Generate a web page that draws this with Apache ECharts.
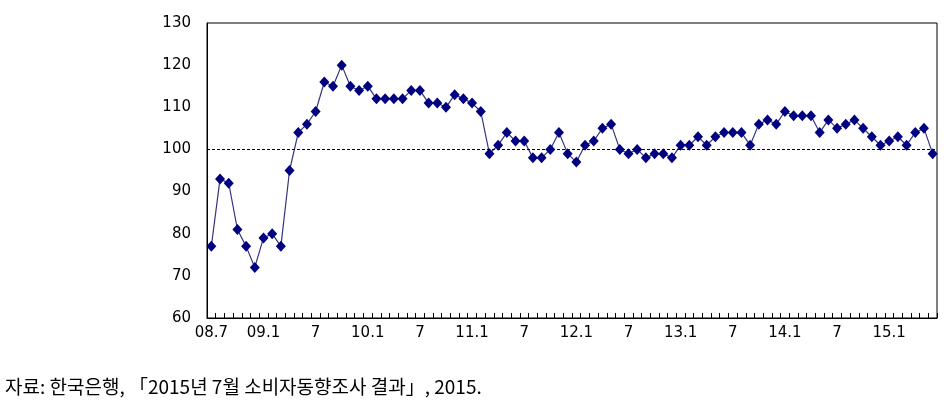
<!DOCTYPE html>
<html>
<head>
<meta charset="utf-8">
<script src="https://cdn.jsdelivr.net/npm/echarts@6/dist/echarts.min.js"></script>
<style>
html,body{margin:0;padding:0;background:#fff;}
#chart{width:949px;height:416px;}
</style>
</head>
<body>
<div id="chart"></div>
<script>
// Monthly data, 2008.7 - 2015.6
var startYear = 2008, startMonth = 7, count = 84;
var categories = [];
for (var i = 0; i < count; i++) {
  var m = (startMonth - 1 + i) % 12 + 1;
  var y = startYear + Math.floor((startMonth - 1 + i) / 12);
  categories.push(String(y).slice(2) + '.' + m);
}
var values = [
  77, 93, 92, 81, 77, 72, 79, 80, 77, 95, 104, 106, 109, 116, 115, 120, 115, 114, 115, 112, 112, 112, 112, 114, 114, 111,
  111, 110, 113, 112, 111, 109, 99, 101, 104, 102, 102, 98, 98, 100, 104, 99, 97, 101, 102, 105, 106, 100, 99, 100, 98, 99, 99, 98,
  101, 101, 103, 101, 103, 104, 104, 104, 101, 106, 107, 106, 109, 108, 108, 108, 104, 107, 105, 106, 107, 105, 103, 101, 102, 103, 101, 104, 105, 99
];
var tickLabels = {
  '08.7': '08.7', '09.1': '09.1', '09.7': '7', '10.1': '10.1', '10.7': '7',
  '11.1': '11.1', '11.7': '7', '12.1': '12.1', '12.7': '7', '13.1': '13.1',
  '13.7': '7', '14.1': '14.1', '14.7': '7', '15.1': '15.1'
};
var yTicks = { min: 60, max: 130, interval: 10 };
var baseline = 100;
var sourceText = '자료: 한국은행, 「2015년 7월 소비자동향조사 결과」, 2015.';

var chart = echarts.init(document.getElementById('chart'), null, { renderer: 'canvas' });
var fontFam = '"DejaVu Sans", sans-serif';
chart.setOption({
  animation: false,
  backgroundColor: '#ffffff',
  grid: { left: 207, right: 12, top: 23, bottom: 98, containLabel: false, show: true, borderColor: '#000', borderWidth: 1 },
  graphic: [{
    type: 'text', left: 5, top: 377,
    style: { text: sourceText, font: '19px "Noto Sans CJK KR", sans-serif', fill: '#000' }
  }],
  xAxis: {
    type: 'category',
    data: categories,
    boundaryGap: true,
    axisLine: { lineStyle: { color: '#000', width: 1 } },
    axisTick: { show: true, inside: true, length: 5, interval: 0, lineStyle: { color: '#000' } },
    axisLabel: {
      interval: function (idx, val) { return tickLabels.hasOwnProperty(val); },
      formatter: function (val) { return tickLabels[val] || ''; },
      color: '#000', fontSize: 15, fontFamily: fontFam, margin: 8
    },
    splitLine: { show: false }
  },
  yAxis: {
    type: 'value',
    min: yTicks.min, max: yTicks.max, interval: yTicks.interval,
    axisLine: { show: true, lineStyle: { color: '#000' } },
    axisTick: { show: false },
    axisLabel: { color: '#000', fontSize: 15, fontFamily: fontFam, margin: 16 },
    splitLine: { show: false }
  },
  series: [{
    type: 'line',
    data: values,
    showSymbol: true,
    showAllSymbol: true,
    symbol: 'diamond',
    symbolSize: [10, 11],
    itemStyle: { color: '#000080' },
    lineStyle: { color: '#34347f', width: 1.2 },
    markLine: {
      silent: true,
      symbol: 'none',
      label: { show: false },
      lineStyle: { color: '#000', type: [3, 2], width: 1 },
      data: [{ yAxis: baseline }]
    }
  }]
});
</script>
</body>
</html>
